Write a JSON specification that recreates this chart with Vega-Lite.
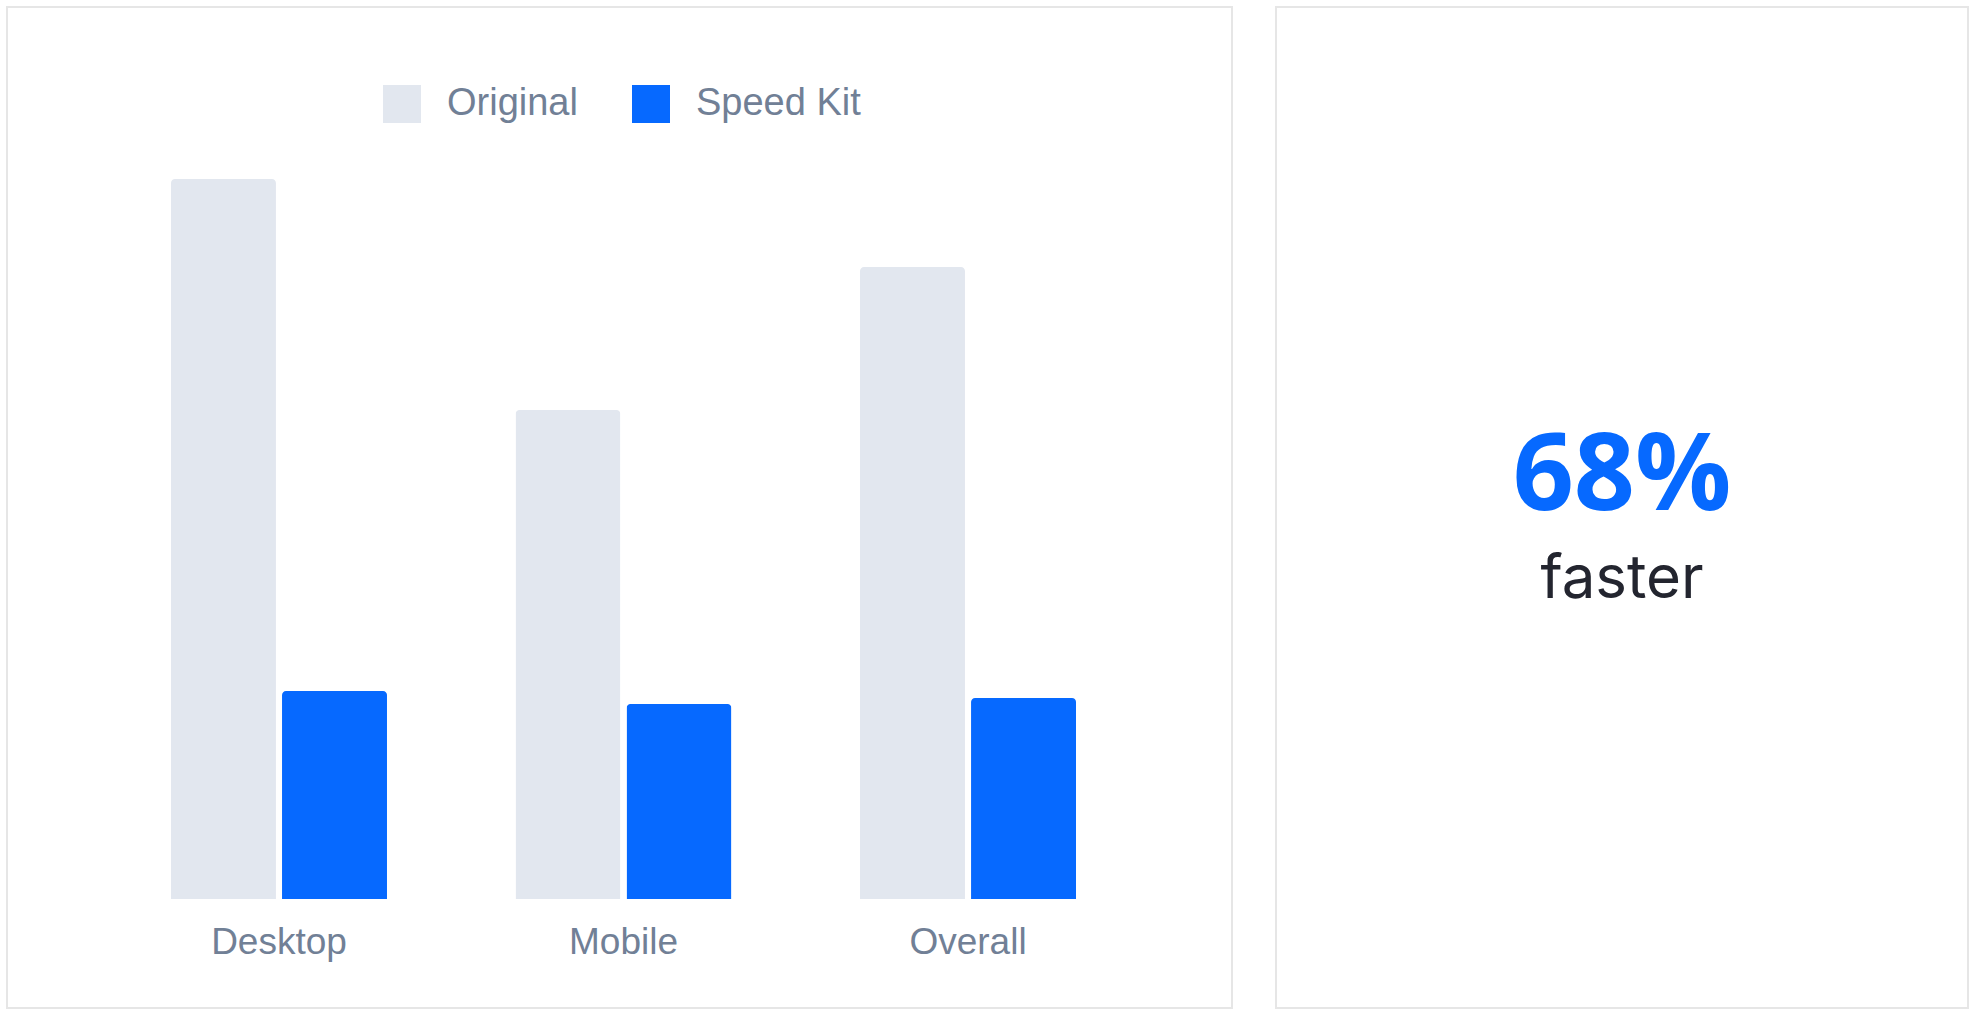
{
  "$schema": "https://vega.github.io/schema/vega-lite/v6.json",
  "background": "#ffffff",
  "padding": {"left": 6, "top": 6, "right": 0, "bottom": 0},
  "spacing": 42,
  "config": {
    "view": {"stroke": "#e6e6e6", "strokeWidth": 2},
    "font": "Liberation Sans"
  },
  "resolve": {"scale": {"color": "independent"}, "legend": {"color": "independent"}},
  "hconcat": [
    {
      "width": 1225,
      "height": 1001,
      "data": {
        "values": [
          {"device": "Desktop", "version": "Original", "loadTime": 3600},
          {"device": "Desktop", "version": "Speed Kit", "loadTime": 1040},
          {"device": "Mobile", "version": "Original", "loadTime": 2445},
          {"device": "Mobile", "version": "Speed Kit", "loadTime": 975},
          {"device": "Overall", "version": "Original", "loadTime": 3160},
          {"device": "Overall", "version": "Speed Kit", "loadTime": 1005}
        ]
      },
      "mark": {"type": "bar", "cornerRadiusEnd": 4},
      "encoding": {
        "x": {
          "field": "device",
          "type": "nominal",
          "sort": ["Desktop", "Mobile", "Overall"],
          "scale": {"paddingInner": 0.373, "paddingOuter": 0.4644, "align": 0.5125},
          "axis": {
            "title": null,
            "domain": false,
            "ticks": false,
            "tickSize": 0,
            "labelPadding": 0,
            "offset": -84,
            "labelAngle": 0,
            "labelFont": "Liberation Sans",
            "labelFontSize": 37,
            "labelColor": "#718096",
            "grid": false
          }
        },
        "xOffset": {
          "field": "version",
          "type": "nominal",
          "sort": ["Original", "Speed Kit"],
          "scale": {"paddingInner": 0.0545, "paddingOuter": 0}
        },
        "y": {
          "field": "loadTime",
          "type": "quantitative",
          "scale": {"domain": [-545, 4460], "nice": false, "zero": false},
          "axis": null
        },
        "color": {
          "field": "version",
          "type": "nominal",
          "sort": ["Original", "Speed Kit"],
          "scale": {"domain": ["Original", "Speed Kit"], "range": ["#e2e7ef", "#0669ff"]},
          "legend": {
            "title": null,
            "orient": "none",
            "legendX": 376,
            "legendY": 78,
            "direction": "horizontal",
            "padding": 0,
            "symbolType": "square",
            "symbolSize": 1444,
            "symbolStrokeWidth": 0,
            "symbolOpacity": 1,
            "labelFont": "Liberation Sans",
            "labelFontSize": 38,
            "labelColor": "#718096",
            "labelOffset": 26,
            "columnPadding": 54,
            "labelLimit": 400
          }
        }
      }
    },
    {
      "width": 692,
      "height": 1001,
      "data": {
        "values": [
          {"kind": "figure", "text": "68%"},
          {"kind": "caption", "text": "faster"}
        ]
      },
      "encoding": {
        "y": {"datum": "summary", "type": "nominal", "axis": null},
        "text": {"field": "text", "type": "nominal"}
      },
      "layer": [
        {
          "transform": [{"filter": "datum.kind === 'figure'"}],
          "mark": {"type": "text", "font": "Open Sans", "fontWeight": 700, "fontSize": 107, "color": "#0669ff", "baseline": "alphabetic", "align": "center", "dy": 2}
        },
        {
          "transform": [{"filter": "datum.kind === 'caption'"}],
          "mark": {"type": "text", "font": "Inter", "fontWeight": 400, "fontSize": 60, "color": "#23252f", "baseline": "alphabetic", "align": "center", "dy": 90}
        }
      ]
    }
  ]
}
